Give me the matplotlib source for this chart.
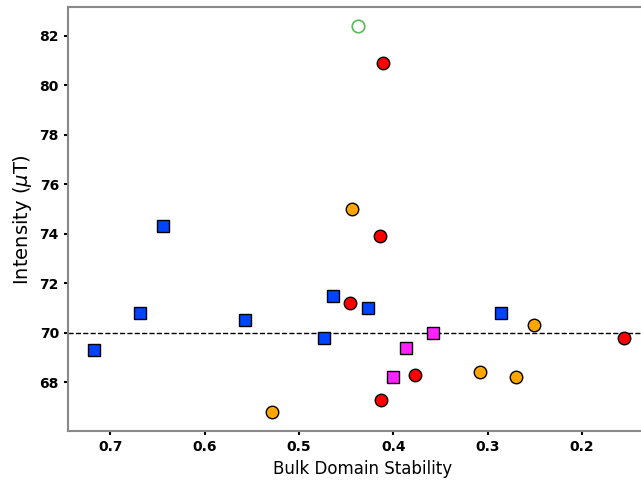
import matplotlib
matplotlib.use('Agg')
import matplotlib.pyplot as plt

# blue squares
blue_x = [0.717, 0.669, 0.644, 0.557, 0.474, 0.464, 0.427, 0.286]
blue_y = [69.3, 70.8, 74.3, 70.5, 69.8, 71.5, 71.0, 70.8]

# magenta squares
mag_x = [0.401, 0.387, 0.358]
mag_y = [68.2, 69.4, 70.0]

# red circles
red_x = [0.411, 0.414, 0.446, 0.377, 0.413, 0.156]
red_y = [80.9, 73.9, 71.2, 68.3, 67.3, 69.8]

# orange circles
orange_x = [0.444, 0.529, 0.251, 0.308, 0.270]
orange_y = [75.0, 66.8, 70.3, 68.4, 68.2]

# open green circle
green_x = [0.438]
green_y = [82.4]

ref_level = 70

fig = plt.figure(figsize=(6.41, 4.8), dpi=100)
ax = fig.add_axes([0.106, 0.102, 0.92, 0.883])

ax.axhline(ref_level, color='k', ls='--', lw=1, zorder=1)

ax.plot(blue_x, blue_y, 's', ms=9, mfc='#0044ff', mec='k', mew=1, ls='none', zorder=3)
ax.plot(mag_x, mag_y, 's', ms=9, mfc='#ff22ff', mec='k', mew=1, ls='none', zorder=3)
ax.plot(red_x, red_y, 'o', ms=9, mfc='#ff0000', mec='k', mew=1, ls='none', zorder=3)
ax.plot(orange_x, orange_y, 'o', ms=9, mfc='#ffa500', mec='k', mew=1, ls='none', zorder=3)
ax.plot(green_x, green_y, 'o', ms=9, mfc='none', mec='#55bb55', mew=1.2, ls='none', zorder=3)

ax.set_xlim(0.745, 0.12)
ax.set_ylim(66.03, 83.16)
ax.set_yticks([68, 70, 72, 74, 76, 78, 80, 82])
ax.set_xticks([0.7, 0.6, 0.5, 0.4, 0.3, 0.2])

for s in ax.spines.values():
    s.set_color('#888888')
    s.set_linewidth(1.5)
ax.spines['right'].set_visible(False)

ax.tick_params(labelsize=10, length=3, width=1.5)
for lab in ax.get_xticklabels() + ax.get_yticklabels():
    lab.set_fontweight('bold')

ax.set_xlabel('Bulk Domain Stability', fontsize=12)
ax.set_ylabel('Intensity ($\\mu$T)', fontsize=14)

plt.savefig('out.png', dpi=100)
